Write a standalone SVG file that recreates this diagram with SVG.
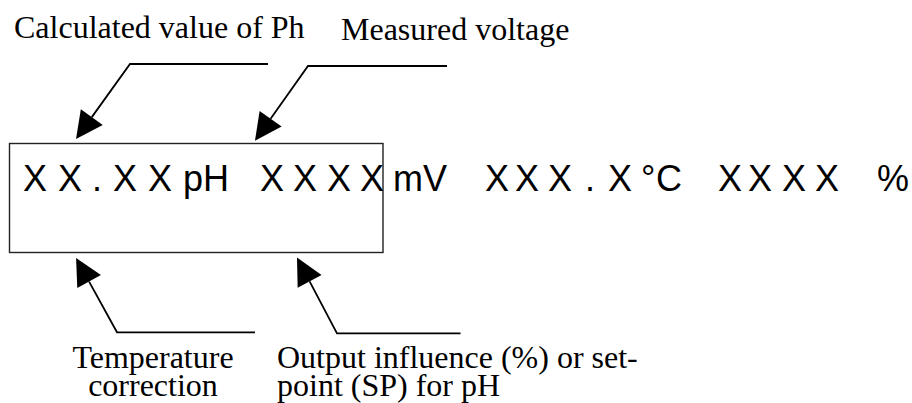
<svg xmlns="http://www.w3.org/2000/svg" width="912" height="403" viewBox="0 0 912 403">
<style>
.lbl{font-family:"Liberation Serif","Times New Roman",serif;font-size:32px;fill:#000}
.disp{font-family:"Liberation Sans",Arial,sans-serif;font-size:36px;fill:#000}
.ln{fill:none;stroke:#000;stroke-width:1.8;marker-end:url(#ah)}
</style>
<defs>
<marker id="ah" markerUnits="userSpaceOnUse" markerWidth="28" markerHeight="28" refX="0" refY="13.5" orient="auto" overflow="visible">
<path d="M0,0 L27,13.5 L0,27 Z" fill="#000"/>
</marker>
</defs>
<rect width="912" height="403" fill="#fff"/>
<g id="display">
<rect x="9.5" y="143.5" width="373.5" height="109" fill="none" stroke="#222" stroke-width="1.4"/>
<text class="disp" y="191" x="23 46 58 81 92 101 113 136 148 172 183 203 235 260 283 293 316 327 350 360 383 393">X X . X X pH X X X X mV</text>
<text class="disp" y="191" x="485 508 515 538 548 571 585 596 608 631 641 656 700 718 741 748 771 782 805 815 838 877">X X X . X °C X X X X %</text>
</g>
<g id="label-ph">
<text class="lbl" x="14" y="38">Calculated value of Ph</text>
</g>
<g id="label-mv">
<text class="lbl" x="341" y="40">Measured voltage</text>
</g>
<g id="label-temp">
<text class="lbl" text-anchor="middle"><tspan x="153" y="368">Temperature</tspan><tspan x="153" y="396">correction</tspan></text>
</g>
<g id="label-output">
<text class="lbl"><tspan x="277" y="368">Output influence (%) or set-</tspan><tspan x="277" y="396">point (SP) for pH</tspan></text>
</g>
<g id="connectors">
<polyline class="ln" points="268,64 130,64 91.8,117.1"/>
<polyline class="ln" points="447,66 308,66 270.6,118.7"/>
<polyline class="ln" points="255,332.3 117,332.3 89.1,281.6"/>
<polyline class="ln" points="460.5,333.3 337,333.3 309.6,281.4"/>
</g>
</svg>
